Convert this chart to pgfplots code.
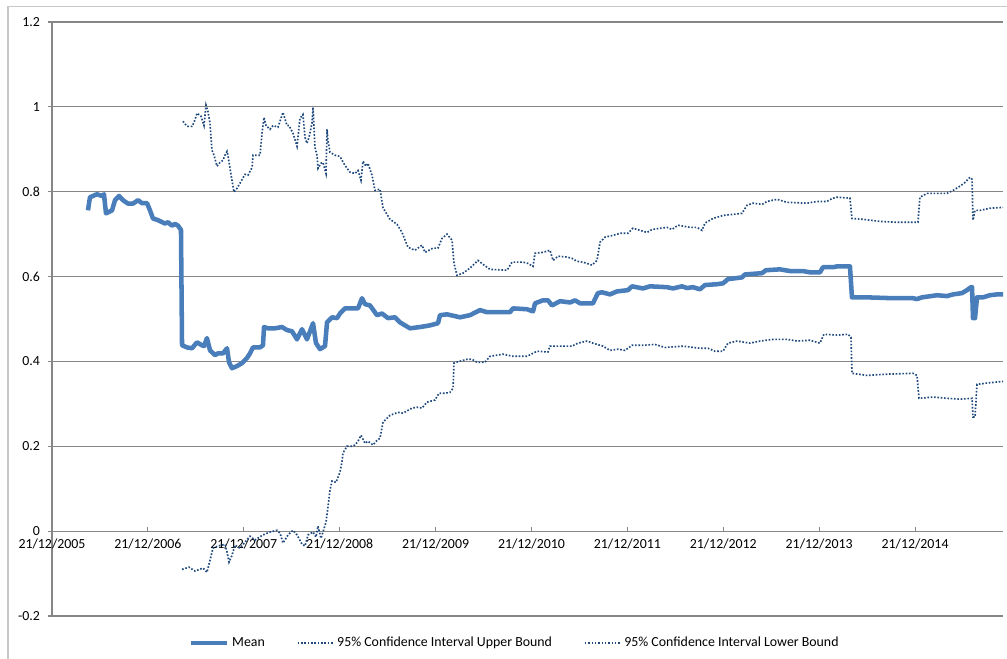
\documentclass[border=0pt]{standalone}
\usepackage{pgfplots}
\pgfplotsset{compat=1.18}
\usepackage{fontspec}
\setmainfont{Carlito}

\definecolor{meanblue}{RGB}{74,126,187}
\definecolor{cidark}{RGB}{31,73,125}
\definecolor{gridgray}{RGB}{134,134,134}
\definecolor{framegray}{RGB}{200,200,200}

% x: years after 21/12/2005
\pgfplotstableread{
x y
0.375 0.756
0.396 0.787
0.469 0.794
0.521 0.790
0.542 0.794
0.563 0.749
0.626 0.756
0.657 0.780
0.699 0.790
0.740 0.780
0.792 0.772
0.845 0.772
0.897 0.780
0.938 0.773
0.991 0.773
1.022 0.756
1.053 0.737
1.105 0.733
1.178 0.725
1.210 0.728
1.251 0.720
1.283 0.724
1.314 0.720
1.345 0.710
1.356 0.438
1.408 0.433
1.460 0.431
1.512 0.445
1.564 0.438
1.585 0.436
1.616 0.455
1.648 0.426
1.700 0.415
1.731 0.419
1.783 0.419
1.825 0.431
1.846 0.398
1.877 0.384
1.929 0.389
1.981 0.396
2.033 0.408
2.065 0.419
2.096 0.433
2.169 0.433
2.200 0.438
2.211 0.481
2.252 0.478
2.325 0.478
2.398 0.481
2.450 0.474
2.503 0.471
2.555 0.452
2.607 0.476
2.659 0.452
2.722 0.490
2.753 0.443
2.795 0.429
2.847 0.436
2.868 0.492
2.920 0.504
2.972 0.502
3.003 0.513
3.055 0.525
3.191 0.525
3.233 0.549
3.264 0.535
3.316 0.532
3.389 0.509
3.441 0.513
3.504 0.502
3.577 0.504
3.629 0.492
3.733 0.478
3.837 0.481
3.942 0.485
4.025 0.490
4.046 0.509
4.119 0.511
4.255 0.504
4.359 0.509
4.463 0.521
4.536 0.516
4.776 0.516
4.807 0.525
4.953 0.523
5.016 0.518
5.037 0.537
5.120 0.544
5.172 0.544
5.214 0.532
5.297 0.542
5.402 0.539
5.454 0.544
5.506 0.537
5.641 0.537
5.693 0.561
5.735 0.563
5.819 0.558
5.892 0.565
6.006 0.568
6.048 0.577
6.163 0.572
6.236 0.577
6.413 0.575
6.476 0.572
6.569 0.577
6.621 0.573
6.684 0.575
6.757 0.570
6.809 0.580
6.934 0.582
6.997 0.584
7.049 0.594
7.195 0.598
7.226 0.605
7.404 0.608
7.445 0.615
7.591 0.617
7.696 0.613
7.831 0.613
7.904 0.610
8.008 0.610
8.040 0.622
8.144 0.622
8.186 0.624
8.321 0.624
8.342 0.551
8.498 0.551
8.770 0.549
8.978 0.549
9.020 0.547
9.072 0.551
9.229 0.556
9.333 0.554
9.396 0.558
9.489 0.561
9.541 0.568
9.583 0.575
9.594 0.575
9.604 0.502
9.625 0.502
9.646 0.551
9.708 0.551
9.781 0.556
9.854 0.558
9.927 0.558
}\meandata

\pgfplotstableread{
x y
1.366 0.966
1.408 0.954
1.460 0.954
1.481 0.963
1.512 0.985
1.554 0.978
1.575 0.963
1.585 0.956
1.606 1.004
1.627 0.988
1.648 0.961
1.668 0.898
1.689 0.886
1.721 0.860
1.752 0.869
1.783 0.874
1.804 0.886
1.825 0.895
1.835 0.886
1.856 0.855
1.877 0.827
1.898 0.799
1.929 0.808
1.960 0.820
2.013 0.841
2.044 0.839
2.086 0.857
2.096 0.886
2.169 0.886
2.190 0.938
2.211 0.975
2.232 0.956
2.273 0.947
2.305 0.956
2.357 0.952
2.398 0.980
2.409 0.987
2.450 0.956
2.471 0.956
2.513 0.938
2.555 0.907
2.586 0.973
2.617 0.982
2.638 0.928
2.659 0.914
2.680 0.928
2.711 0.961
2.722 0.999
2.742 0.905
2.763 0.886
2.774 0.855
2.805 0.867
2.826 0.869
2.857 0.843
2.868 0.947
2.878 0.921
2.899 0.893
2.951 0.886
3.003 0.883
3.055 0.862
3.107 0.846
3.160 0.843
3.191 0.850
3.222 0.827
3.243 0.872
3.274 0.860
3.295 0.867
3.337 0.839
3.368 0.803
3.420 0.806
3.452 0.762
3.525 0.735
3.598 0.723
3.650 0.704
3.712 0.669
3.785 0.662
3.858 0.674
3.890 0.657
3.973 0.667
4.025 0.667
4.067 0.690
4.119 0.700
4.171 0.686
4.192 0.631
4.223 0.603
4.286 0.608
4.359 0.620
4.442 0.638
4.494 0.629
4.567 0.617
4.745 0.615
4.797 0.634
4.911 0.634
4.964 0.631
5.016 0.624
5.037 0.655
5.120 0.657
5.193 0.662
5.225 0.638
5.277 0.648
5.370 0.646
5.423 0.643
5.475 0.636
5.537 0.634
5.631 0.627
5.683 0.638
5.715 0.681
5.767 0.693
5.850 0.697
5.923 0.702
6.006 0.702
6.058 0.714
6.132 0.709
6.205 0.704
6.257 0.711
6.413 0.716
6.465 0.711
6.528 0.721
6.653 0.716
6.726 0.716
6.778 0.709
6.809 0.726
6.893 0.737
6.997 0.744
7.195 0.749
7.247 0.768
7.310 0.773
7.404 0.770
7.456 0.777
7.560 0.782
7.664 0.775
7.873 0.773
7.977 0.777
8.081 0.777
8.134 0.784
8.186 0.787
8.321 0.785
8.342 0.737
8.457 0.735
8.634 0.730
8.811 0.728
9.030 0.728
9.051 0.787
9.124 0.796
9.333 0.796
9.396 0.803
9.468 0.813
9.521 0.822
9.572 0.834
9.594 0.829
9.604 0.733
9.625 0.756
9.677 0.756
9.781 0.761
9.917 0.763
}\upperdata

\pgfplotstableread{
x y
1.356 -0.090
1.429 -0.085
1.491 -0.094
1.575 -0.087
1.616 -0.097
1.648 -0.068
1.679 -0.040
1.731 -0.035
1.804 -0.031
1.825 -0.049
1.846 -0.073
1.877 -0.057
1.908 -0.033
1.960 -0.040
2.013 -0.026
2.065 -0.012
2.117 -0.021
2.200 -0.009
2.273 -0.002
2.346 0.002
2.378 -0.005
2.409 -0.028
2.461 -0.009
2.513 0.002
2.555 -0.009
2.607 -0.031
2.638 -0.035
2.670 -0.009
2.722 -0.002
2.753 -0.014
2.774 0.012
2.805 -0.017
2.826 -0.002
2.857 0.021
2.878 0.057
2.899 0.097
2.920 0.118
2.962 0.115
3.003 0.139
3.024 0.163
3.034 0.184
3.076 0.200
3.128 0.200
3.160 0.203
3.191 0.212
3.222 0.226
3.264 0.207
3.295 0.212
3.347 0.203
3.389 0.214
3.420 0.219
3.452 0.257
3.525 0.273
3.608 0.280
3.660 0.278
3.754 0.290
3.806 0.292
3.858 0.290
3.910 0.304
3.994 0.309
4.036 0.325
4.098 0.325
4.150 0.327
4.182 0.337
4.192 0.396
4.213 0.398
4.328 0.405
4.380 0.405
4.432 0.398
4.515 0.398
4.567 0.412
4.703 0.417
4.807 0.412
4.953 0.412
5.058 0.424
5.172 0.422
5.193 0.436
5.423 0.436
5.485 0.443
5.579 0.448
5.641 0.443
5.746 0.436
5.819 0.426
5.902 0.429
5.975 0.426
6.048 0.438
6.163 0.438
6.288 0.440
6.392 0.433
6.580 0.436
6.757 0.431
6.841 0.431
6.914 0.424
6.997 0.424
7.049 0.443
7.143 0.448
7.279 0.443
7.383 0.448
7.519 0.452
7.664 0.452
7.769 0.448
7.904 0.450
8.008 0.443
8.050 0.464
8.186 0.462
8.301 0.464
8.332 0.457
8.342 0.372
8.498 0.367
8.707 0.370
8.978 0.372
9.020 0.367
9.041 0.313
9.187 0.316
9.333 0.313
9.468 0.311
9.594 0.313
9.604 0.269
9.625 0.269
9.646 0.346
9.750 0.349
9.833 0.351
9.917 0.353
}\lowerdata

\begin{document}
\begin{tikzpicture}[x=0.75pt,y=0.75pt]
\begin{axis}[
    width=713.25pt, height=445.5pt, scale only axis,
    xmin=0, xmax=9.917,
    ymin=-0.2, ymax=1.2,
    axis x line*=middle, axis y line*=left,
    hide obscured x ticks=false, hide obscured y ticks=false,
    axis line style={gridgray, line width=0.8pt},
    ymajorgrids,
    major grid style={gridgray, line width=0.8pt},
    tick align=center,
    major tick length=3pt,
    tick style={gridgray, line width=0.8pt},
    x tick style={yshift=1.5pt},
    y tick style={xshift=-1.5pt},
    xtick={0,1,2,3,4,5,6,7,8,9},
    xticklabels={21/12/2005,21/12/2006,21/12/2007,21/12/2008,21/12/2009,21/12/2010,21/12/2011,21/12/2012,21/12/2013,21/12/2014},
    ytick={-0.2,0,0.2,0.4,0.6,0.8,1,1.2},
    yticklabels={-0.2,0,0.2,0.4,0.6,0.8,1,1.2},
    ticklabel style={font=\fontsize{10.4}{12}\selectfont, text=black},
    xticklabel style={anchor=north, yshift=-1pt},
    yticklabel style={anchor=east, xshift=-4pt},
    legend columns=3,
    legend style={
        at={(axis description cs:0.487,-0.0455)}, anchor=center,
        draw=none, fill=none,
        font=\fontsize{10.4}{12}\selectfont,
        /tikz/every even column/.append style={column sep=22pt}
    },
    legend cell align=left,
    legend image code/.code={\draw[#1] (0pt,0pt) -- (27pt,0pt);},
]
\coordinate (sw) at (rel axis cs:0,0);
\addplot[meanblue, line width=3.4pt, line join=round] table {\meandata};
\addlegendentry{Mean}
\addplot[cidark, line width=1.25pt, dash pattern=on 1.2pt off 1.3pt] table {\upperdata};
\addlegendentry{95\% Confidence Interval Upper Bound}
\addplot[cidark, line width=1.25pt, dash pattern=on 1.2pt off 1.3pt] table {\lowerdata};
\addlegendentry{95\% Confidence Interval Lower Bound}
\end{axis}
% chart area frame (cropped on the right and bottom)
\draw[framegray, line width=0.9pt] ([shift={(-44,-80)}]sw) rectangle ([shift={(1000,609.5)}]sw);
\pgfresetboundingbox
\useasboundingbox ([shift={(-52,-43)}]sw) rectangle ([shift={(955,616)}]sw);
\end{tikzpicture}
\end{document}
